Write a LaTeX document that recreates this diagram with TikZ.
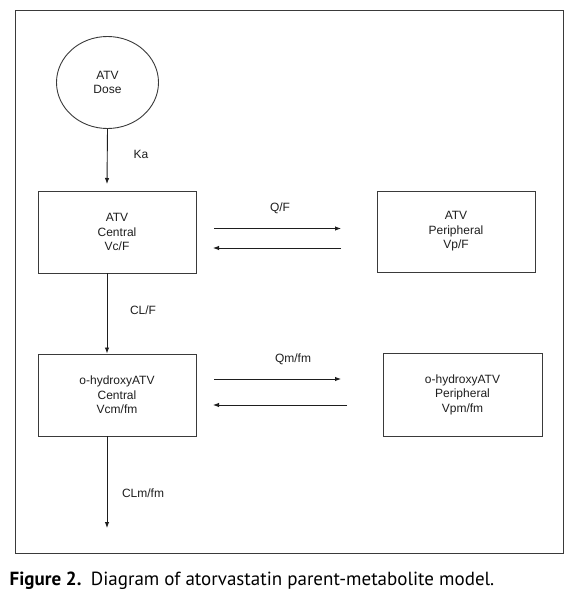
\documentclass[tikz,border=0pt]{standalone}
\usepackage{fontspec}
\setmainfont{Liberation Sans}
\newfontfamily\capfont{PT Sans}
\usetikzlibrary{shapes.geometric,arrows.meta}
\definecolor{linegray}{HTML}{3A3A3A}
\definecolor{txt}{HTML}{1E1E1E}
\tikzset{
  box/.style={draw=linegray, line width=0.9pt, rectangle, align=center, text=txt,
    font=\fontsize{12}{14.5}\selectfont, inner sep=0pt},
  lab/.style={text=txt, font=\fontsize{12}{14.5}\selectfont, inner sep=0pt},
  arr/.style={draw=txt, line width=0.9pt, -{Latex[length=6pt,width=4.5pt]}},
  frame/.style={draw=linegray, line width=1pt}
}
\begin{document}
\begin{tikzpicture}[x=1pt,y=-1pt]
\useasboundingbox (0,0) rectangle (579,599);
\fill[white] (0,0) rectangle (579,599);
\draw[frame] (15.5,10.5) rectangle (563,553);
% nodes
\node[box, ellipse, minimum width=102pt, minimum height=92pt] (dose) at (107.5,82.5) {ATV\\Dose};
\node[box, minimum width=158pt, minimum height=82pt] (c1) at (117,232) {ATV\\Central\\Vc/F};
\node[box, minimum width=158pt, minimum height=81pt] (p1) at (456,231.5) {ATV\\Peripheral\\Vp/F};
\node[box, minimum width=158pt, minimum height=82pt] (c2) at (117,395) {o-hydroxyATV\\Central\\Vcm/fm};
\node[box, minimum width=159pt, minimum height=83pt] (p2) at (462.5,394.5) {o-hydroxyATV\\Peripheral\\Vpm/fm};
% coordinates
\coordinate (kaS) at (107,128.5);
\coordinate (kaE) at (107,184);
\coordinate (clS) at (107,273);
\coordinate (clE) at (107,353.5);
\coordinate (clmS) at (107,436);
\coordinate (clmE) at (107,528);
\coordinate (q1a) at (214,228.5);
\coordinate (q1b) at (341,228.5);
\coordinate (q2a) at (341,248);
\coordinate (q2b) at (213,248);
\coordinate (m1a) at (214,379);
\coordinate (m1b) at (341,379);
\coordinate (m2a) at (347,405);
\coordinate (m2b) at (213,405);
% connectors
\draw[arr] (dose.south) -- (kaE);
\draw[arr] (c1.south -| clS) -- (clE);
\draw[arr] (c2.south -| clmS) -- (clmE);
\draw[arr] (q1a) -- (q1b);
\draw[arr] (q2a) -- (q2b);
\draw[arr] (m1a) -- (m1b);
\draw[arr] (m2a) -- (m2b);
% labels
\node[lab] (lka) at (141,154) {Ka};
\node[lab] (lcl) at (143,310) {CL/F};
\node[lab] (lclm) at (143,493) {CLm/fm};
\node[lab] (lq) at (280,208) {Q/F};
\node[lab] (lqm) at (293,359) {Qm/fm};
% caption
\node[anchor=base west, inner sep=0pt, text=black, font=\capfont\fontsize{19}{21}\selectfont] (cap) at (9.5,585)
  {\textbf{Figure 2.}\enspace Diagram of atorvastatin parent-metabolite model.};
\end{tikzpicture}
\end{document}
